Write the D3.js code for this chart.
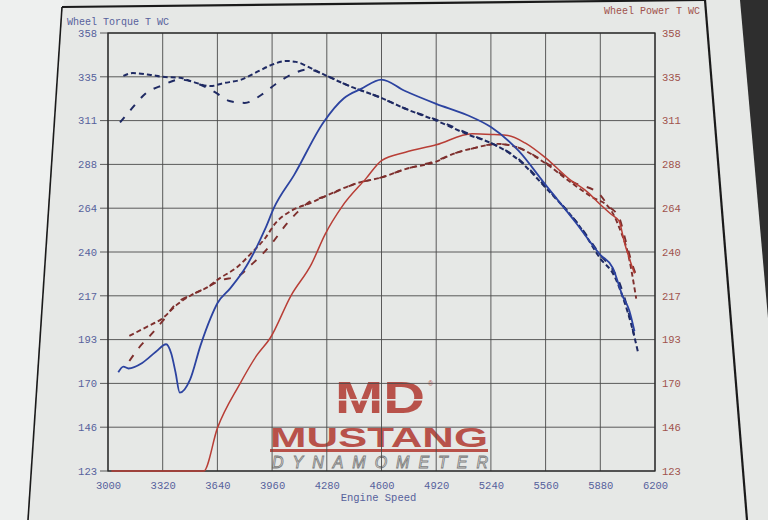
<!DOCTYPE html>
<html>
<head>
<meta charset="utf-8">
<script src="https://cdn.jsdelivr.net/npm/d3@7"></script>
<style>
  html, body { margin: 0; padding: 0; background: #e9ebea; }
  svg { display: block; }
</style>
</head>
<body>
<svg id="chart" width="768" height="520"></svg>
<script>
// ---------- DATA ----------
const xTicks = [3000, 3320, 3640, 3960, 4280, 4600, 4920, 5240, 5560, 5880, 6200];
const yTickValues = [123, 146.5, 170, 193.5, 217, 240.5, 264, 287.5, 311, 334.5, 358];
const yTickLabels = ["123", "146", "170", "193", "217", "240", "264", "288", "311", "335", "358"];

const torqueSolidRpm = [3060, 3090, 3120, 3200, 3280, 3340, 3370, 3395, 3420, 3480, 3540, 3600, 3640, 3715, 3810, 3920, 3970, 4090, 4260, 4380, 4480, 4600, 4735, 4920, 5100, 5240, 5400, 5560, 5735, 5880, 5953, 6010, 6050, 6080];
const torqueSolidVal = [176, 179, 178, 181, 187, 191, 186, 176, 165, 172, 190, 205, 213, 221, 233, 253, 264, 282, 310, 323, 328, 333, 327, 320, 314, 307.5, 295, 276.5, 256.5, 239, 232, 217, 209, 198];

const torqueDashARpm = [3090, 3145, 3250, 3320, 3420, 3490, 3600, 3670, 3780, 3880, 3960, 4040, 4100, 4190, 4280, 4400, 4590, 4750, 4920, 5120, 5240, 5400, 5560, 5780, 5880, 5960, 6020, 6060, 6100];
const torqueDashAVal = [335, 336.5, 335.5, 334.5, 334, 332, 329.5, 331, 333, 337.5, 341, 343, 342.5, 339, 335, 330, 323.5, 317, 311, 303, 299, 290, 275, 251.5, 237, 228, 214, 202, 187];

const torqueDashBRpm = [3070, 3135, 3220, 3320, 3420, 3520, 3630, 3710, 3800, 3900, 3980, 4080, 4170, 4280, 4400, 4590, 4750, 4920, 5120, 5240, 5400, 5560, 5780, 5880, 5960, 6000, 6040, 6080];
const torqueDashBVal = [310, 317, 325.5, 330, 333, 331, 326, 321.5, 320.5, 325, 330.5, 336, 338.5, 335, 330, 323.5, 317, 311.5, 303.5, 299, 290.5, 275.5, 252, 239, 230, 222, 210, 195];

const powerSolidRpm = [3020, 3560, 3640, 3770, 3870, 3950, 4070, 4190, 4270, 4370, 4510, 4600, 4740, 4920, 5130, 5260, 5340, 5440, 5560, 5700, 5800, 5880, 5940, 5990, 6020, 6050, 6080];
const powerSolidVal = [123, 123, 146, 169.5, 185, 194.5, 217, 234, 250, 265, 280, 289.5, 294, 298, 304, 303.5, 303, 299, 291, 279.5, 273, 266, 261, 257, 246, 237, 229];

const powerDashARpm = [3125, 3230, 3320, 3400, 3490, 3580, 3655, 3750, 3840, 3920, 3980, 4070, 4190, 4260, 4460, 4600, 4740, 4920, 5030, 5130, 5280, 5400, 5560, 5720, 5830, 5930, 6000, 6040, 6090];
const powerDashAVal = [195.5, 200.5, 205, 212, 217.5, 221.5, 226.5, 232, 240, 248, 256, 262.5, 267, 270, 277.5, 280.5, 285, 289, 293.5, 296, 298.5, 296.5, 288, 277, 270, 264.5, 251.5, 240.5, 215.5];

const powerDashBRpm = [3125, 3180, 3250, 3320, 3400, 3490, 3580, 3650, 3770, 3830, 3910, 3970, 4040, 4110, 4180, 4260, 4460, 4600, 4740, 4920, 5030, 5130, 5280, 5400, 5560, 5720, 5870, 5930, 5990, 6030, 6070, 6090];
const powerDashBVal = [182, 189, 196, 203.5, 213, 217.5, 221.5, 225, 228, 233, 240, 246.5, 255, 262, 267.5, 270, 277.5, 280.5, 285, 289.5, 293.5, 296, 298.5, 296.5, 288.5, 278, 272, 265, 259, 246, 233, 228];

// ---------- LAYOUT ----------
const svg = d3.select("#chart");
const W = 768, H = 520;
const pLeft = 108, pRight = 655, pTop = 33, pBottom = 471;
const mono = "'Liberation Mono', 'DejaVu Sans Mono', monospace";
const blueText = "#56619c", redText = "#a0524c";

// paper background + photo framing
svg.append("rect").attr("x", 0).attr("y", 0).attr("width", W).attr("height", H).attr("fill", "#e6e8e6");
svg.append("path").attr("d", "M0,0 L64,0 L63,7 L28,520 L0,520 Z").attr("fill", "#eef0ef");
svg.append("path").attr("d", "M740,0 L768,0 L768,318 Z").attr("fill", "#2e2e2e");
svg.append("path").attr("d", "M62,7 L705,0").attr("stroke", "#1a1a1a").attr("stroke-width", 2.2);
svg.append("path").attr("d", "M62,7 L28,520").attr("stroke", "#1a1a1a").attr("stroke-width", 1.6);
svg.append("path").attr("d", "M705,0 L747,520").attr("stroke", "#1a1a1a").attr("stroke-width", 2.2);

// scales
const x = d3.scaleLinear().domain([3000, 6200]).range([pLeft, pRight]);
const y = d3.scaleLinear().domain([123, 358]).range([pBottom, pTop]);

// ---------- LOGO (under grid) ----------
const logo = svg.append("g");
const red = "#b8524a";
logo.append("text").attr("x", 380).attr("y", 413).attr("text-anchor", "middle")
  .attr("font-family", "'Liberation Sans', Arial, sans-serif").attr("font-weight", "bold")
  .attr("font-size", 44).attr("textLength", 90).attr("lengthAdjust", "spacingAndGlyphs")
  .attr("fill", red).text("MD");
logo.append("rect").attr("x", 334).attr("y", 399).attr("width", 92).attr("height", 1.6).attr("fill", "#e6e8e6");
logo.append("text").attr("x", 428).attr("y", 386).attr("font-family", "'Liberation Sans', sans-serif")
  .attr("font-size", 7).attr("fill", red).text("®");
logo.append("text").attr("x", 270).attr("y", 446.5)
  .attr("font-family", "'Liberation Sans', Arial, sans-serif").attr("font-weight", "bold")
  .attr("font-size", 27).attr("textLength", 218).attr("lengthAdjust", "spacingAndGlyphs")
  .attr("fill", red).text("MUSTANG");
logo.append("rect").attr("x", 270).attr("y", 449).attr("width", 218).attr("height", 3).attr("fill", red);
logo.append("text").attr("x", 272).attr("y", 468)
  .attr("font-family", "'Liberation Sans', Arial, sans-serif").attr("font-style", "italic")
  .attr("font-size", 16).attr("textLength", 216).attr("lengthAdjust", "spacing")
  .attr("fill", "#eceeec").attr("stroke", "#7a7a7a").attr("stroke-width", 0.8)
  .text("DYNAMOMETER");

// ---------- GRID ----------
const grid = svg.append("g").attr("stroke", "#4a4a4a").attr("stroke-width", 0.9);
grid.selectAll(".v").data(xTicks).enter().append("line")
  .attr("x1", d => x(d)).attr("x2", d => x(d)).attr("y1", pTop).attr("y2", pBottom);
grid.selectAll(".h").data(yTickValues).enter().append("line")
  .attr("x1", pLeft - 8).attr("x2", pRight).attr("y1", d => y(d)).attr("y2", d => y(d));
svg.append("rect").attr("x", pLeft).attr("y", pTop).attr("width", pRight - pLeft).attr("height", pBottom - pTop)
  .attr("fill", "none").attr("stroke", "#2a2a2a").attr("stroke-width", 1.3);

// ---------- AXES ----------
const leftAxis = d3.axisLeft(y).tickValues(yTickValues).tickSize(0).tickPadding(11)
  .tickFormat((d, i) => yTickLabels[i]);
const gL = svg.append("g").attr("transform", `translate(${pLeft},0)`).call(leftAxis);
gL.select(".domain").remove();
gL.selectAll("text").attr("font-family", mono).attr("font-size", 10.5).attr("fill", blueText);

const rightAxis = d3.axisRight(y).tickValues(yTickValues).tickSize(0).tickPadding(7)
  .tickFormat((d, i) => yTickLabels[i]);
const gR = svg.append("g").attr("transform", `translate(${pRight},0)`).call(rightAxis);
gR.select(".domain").remove();
gR.selectAll("text").attr("font-family", mono).attr("font-size", 10.5).attr("fill", redText);

const bottomAxis = d3.axisBottom(x).tickValues(xTicks).tickSize(0).tickPadding(11).tickFormat(d3.format("d"));
const gB = svg.append("g").attr("transform", `translate(0,${pBottom})`).call(bottomAxis);
gB.select(".domain").remove();
gB.selectAll("text").attr("font-family", mono).attr("font-size", 10.5).attr("fill", blueText);

svg.append("text").attr("x", (pLeft + pRight) / 2 - 3).attr("y", 501).attr("text-anchor", "middle")
  .attr("font-family", mono).attr("font-size", 10.5).attr("fill", blueText).text("Engine Speed");
svg.append("text").attr("x", 67).attr("y", 25)
  .attr("font-family", mono).attr("font-size", 10).attr("fill", blueText).text("Wheel Torque T WC");
svg.append("text").attr("x", 700).attr("y", 14).attr("text-anchor", "end")
  .attr("font-family", mono).attr("font-size", 10).attr("fill", redText).text("Wheel Power T WC");

// ---------- CURVES ----------
const line = d3.line().x(d => x(d[0])).y(d => y(d[1])).curve(d3.curveMonotoneX);
const zip = (a, b) => a.map((v, i) => [v, b[i]]);
const series = [
  { rpm: powerDashBRpm, val: powerDashBVal, color: "#7e2f2d", w: 1.9, dash: "7,9" },
  { rpm: powerDashARpm, val: powerDashAVal, color: "#7e2f2d", w: 1.9, dash: "5,3" },
  { rpm: powerSolidRpm, val: powerSolidVal, color: "#b83e36", w: 1.5, dash: null },
  { rpm: torqueDashBRpm, val: torqueDashBVal, color: "#1f2a63", w: 2, dash: "7,9" },
  { rpm: torqueDashARpm, val: torqueDashAVal, color: "#1f2a63", w: 2, dash: "5,3" },
  { rpm: torqueSolidRpm, val: torqueSolidVal, color: "#2c43a0", w: 1.8, dash: null }
];
svg.append("g").selectAll("path").data(series).enter().append("path")
  .attr("d", s => line(zip(s.rpm, s.val)))
  .attr("fill", "none")
  .attr("stroke", s => s.color)
  .attr("stroke-width", s => s.w)
  .attr("stroke-dasharray", s => s.dash)
  .attr("stroke-linejoin", "round");
</script>
</body>
</html>
